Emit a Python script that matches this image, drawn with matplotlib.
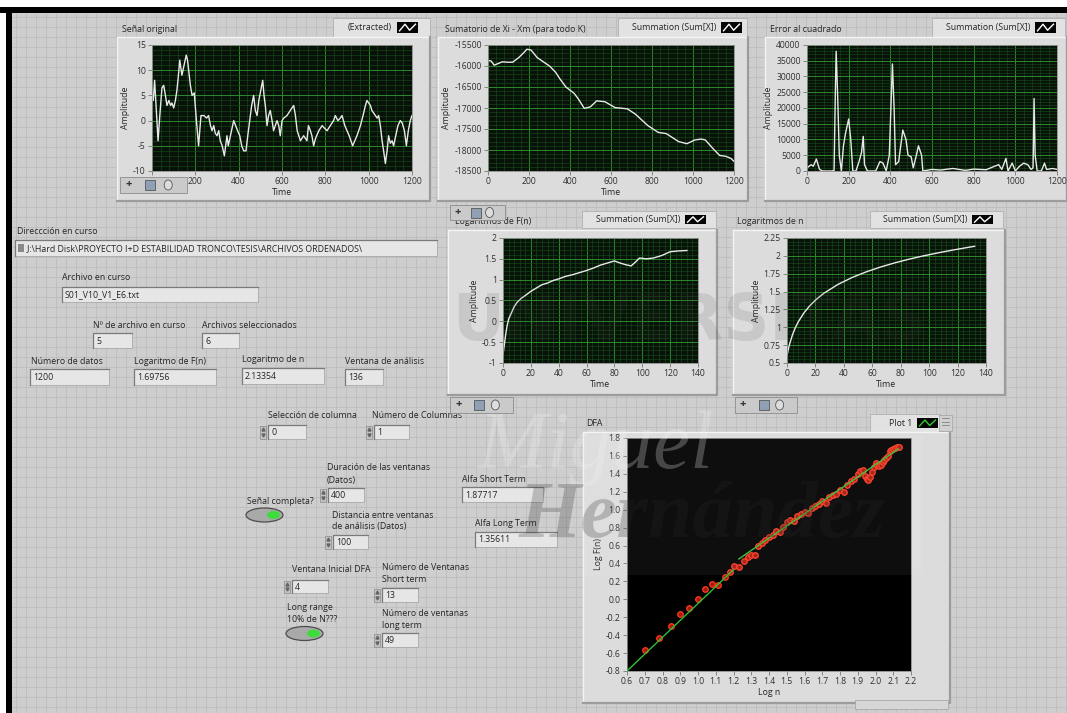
import matplotlib
matplotlib.use('Agg')
import matplotlib.pyplot as plt
from matplotlib.patches import Rectangle, Ellipse
from matplotlib.collections import LineCollection
from matplotlib.ticker import MultipleLocator, AutoMinorLocator, FuncFormatter

plt.rcParams['font.family'] = ['Open Sans', 'DejaVu Sans']
plt.rcParams['axes.unicode_minus'] = False

# ---------------- data ----------------
sig_t = [0, 6, 12, 20, 28, 36, 46, 54, 62, 69, 78, 86, 92, 100, 108, 115, 122, 128, 138, 148,
         158, 164, 169, 177, 185, 195, 205, 215, 226, 240, 252, 261, 270, 277, 285, 292, 300, 308,
         315, 324, 334, 340, 346, 352, 362, 377, 386, 395, 405, 414, 423, 434, 442, 451, 460, 469,
         477, 485, 493, 502, 511, 517, 523, 531, 538, 546, 554, 561, 569, 577, 585, 592, 600, 608,
         623, 638, 654, 662, 670, 685, 700, 715, 722, 731, 738, 746, 755, 770, 785, 796, 808, 823,
         838, 846, 858, 869, 877, 890, 900, 910, 926, 936, 946, 954, 962, 974, 985, 992, 1000, 1008,
         1015, 1023, 1031, 1039, 1046, 1054, 1062, 1069, 1077, 1085, 1092, 1100, 1108, 1115, 1125,
         1135, 1146, 1155, 1165, 1174, 1183, 1192, 1200]
sig_v = [5, 4, 8, 2, -4, 1, 6.5, 7, 5, 3, 4, 3, 3.5, 2.5, 4, 6, 9, 12, 9, 11,
         13, 12, 10, 7, 5, 5.5, 0, -5, 1, 1, 0.5, 1, -1, -2, -1, -2.5, -3, -2,
         -4, -5, -7, -5, -3, -5, -3, 0, -1, -2, -3, -5, -6, -6, -3, 0, 3, 5,
         2, 1, 4, 6, 8, 5, 3, -1, 1, 2, 0, -2, -1, 0, -1, -3, 0, 0.5,
         1, 2, 3, 1, -2, -4, -3, -4, -1, -2, -3, -5, -3.5, -2, -1, -1.5, -2, -1,
         0, 1, 0, 0.5, 1, -1, -2, -3, -5, -4, -3, -2, -1, 1, 3, 4, 3.5, 3,
         2, 1.5, 1, 0.5, 1, -1, -4, -6, -8.5, -6, -3, -4.5, -4, -5, -3,
         -1, 0, -0.5, -2, -5, -2, 0, 1]

sum_t = [0, 15, 30, 50, 70, 95, 120, 150, 175, 190, 210, 240, 270, 300, 330, 350, 380, 420, 440,
         470, 500, 530, 570, 620, 680, 720, 780, 830, 870, 930, 970, 1010, 1040, 1060, 1100, 1130,
         1160, 1185, 1200]
sum_v = [-15870, -15880, -15980, -15940, -15900, -15910, -15910, -15800, -15680, -15600, -15620,
         -15800, -15900, -16000, -16150, -16300, -16500, -16650, -16780, -17010, -16970, -16830,
         -16850, -16990, -17020, -17150, -17420, -17580, -17610, -17800, -17850, -17760, -17740,
         -17760, -17980, -18130, -18150, -18200, -18270]

err_t = [0, 10, 20, 30, 45, 60, 75, 120, 130, 136, 140, 148, 155, 165, 175, 185, 200, 210, 220, 235,
         250, 262, 270, 276, 290, 330, 350, 365, 380, 395, 410, 418, 425, 440, 460, 475, 485, 500,
         510, 525, 535, 550, 556, 600, 640, 700, 760, 800, 860, 900, 920, 935, 955, 965, 985, 1000,
         1020, 1040, 1060, 1075, 1085, 1090, 1095, 1105, 1125, 1140, 1150, 1180, 1200]
err_v = [1000, 1500, 2000, 1500, 3800, 500, 0, 0, 200, 25000, 38000, 22000, 5000, 0, 8000, 12000,
         16500, 10000, 0, 0, 3000, 6000, 11000, 2000, 0, 0, 3000, 2500, 0, 5000, 34000, 20000, 2000,
         3000, 13000, 10000, 5000, 4500, 1000, 5000, 8000, 5000, 0, 500, 300, 800, 200, 600, 400,
         1500, 2000, 500, 4000, 0, 2500, 0, 1500, 2500, 2000, 500, 1000, 23000, 5000, 0, 0, 2500,
         500, 800, 500]

logf_x = [0, 1, 2, 3, 4, 6, 8, 10, 13, 16, 20, 24, 28, 32, 36, 40, 45, 50, 55, 60, 65, 70, 75, 80,
          84, 88, 92, 95, 98, 103, 108, 114, 120, 126, 132]
logf_v = [-0.8, -0.55, -0.3, -0.1, 0.05, 0.2, 0.35, 0.45, 0.55, 0.62, 0.72, 0.8, 0.88, 0.92, 0.98,
          1.02, 1.08, 1.12, 1.17, 1.22, 1.28, 1.35, 1.4, 1.45, 1.4, 1.36, 1.33, 1.42, 1.52, 1.5,
          1.52, 1.58, 1.67, 1.69, 1.7]

logn_x = [0, 1, 2, 4, 6, 8, 12, 16, 21, 26, 36, 46, 56, 66, 76, 86, 96, 106, 116, 126, 132]
logn_v = [0.602, 0.699, 0.778, 0.903, 1.0, 1.079, 1.204, 1.301, 1.398, 1.477, 1.602, 1.699, 1.778,
          1.845, 1.903, 1.954, 2.0, 2.041, 2.079, 2.114, 2.134]

dfa_x = [0.70, 0.78, 0.85, 0.90, 0.95, 1.00, 1.04, 1.08, 1.11, 1.15, 1.18, 1.20, 1.23, 1.26, 1.28,
         1.30, 1.32, 1.34, 1.36, 1.38, 1.40, 1.42, 1.44, 1.46, 1.48, 1.50, 1.52, 1.54, 1.56, 1.58,
         1.60, 1.62, 1.64, 1.66, 1.68, 1.70, 1.72, 1.74, 1.76, 1.78, 1.80, 1.82, 1.84, 1.86, 1.88,
         1.90, 1.91, 1.93, 1.94, 1.95, 1.96, 1.97, 1.98, 1.99, 2.00, 2.01, 2.02, 2.03, 2.04, 2.05,
         2.06, 2.07, 2.08, 2.09, 2.10, 2.11, 2.12, 2.13]
dfa_y = [-0.57, -0.43, -0.30, -0.16, -0.10, 0.00, 0.11, 0.17, 0.16, 0.25, 0.31, 0.37, 0.36, 0.43,
         0.47, 0.50, 0.49, 0.60, 0.63, 0.66, 0.70, 0.72, 0.76, 0.75, 0.81, 0.86, 0.88, 0.87, 0.93,
         0.95, 0.97, 0.96, 1.02, 1.04, 1.06, 1.10, 1.08, 1.14, 1.16, 1.18, 1.22, 1.20, 1.28, 1.32,
         1.34, 1.40, 1.43, 1.44, 1.38, 1.34, 1.33, 1.36, 1.42, 1.48, 1.52, 1.50, 1.49, 1.50, 1.53,
         1.56, 1.58, 1.60, 1.66, 1.67, 1.68, 1.69, 1.70, 1.70]
fit_short_x = [0.60, 1.20]
fit_short_y = [-0.80, 0.33]
fit_long_x = [1.23, 2.13]
fit_long_y = [0.45, 1.68]

# ---------------- canvas ----------------
W, H = 1067, 713
fig = plt.figure(figsize=(W / 100, H / 100), dpi=100)
fig.patch.set_facecolor('white')

bg = fig.add_axes([0, 0, 1, 1])
bg.set_xlim(0, W); bg.set_ylim(H, 0); bg.axis('off'); bg.set_zorder(0)
ov = fig.add_axes([0, 0, 1, 1])
ov.set_xlim(0, W); ov.set_ylim(H, 0); ov.axis('off'); ov.set_zorder(20)
ov.patch.set_alpha(0)

TXT = '#252525'


def rect(ax, x0, y0, x1, y1, fc, ec='none', lw=0.8, z=1, alpha=1.0):
    ax.add_patch(Rectangle((x0, y0), x1 - x0, y1 - y0, facecolor=fc, edgecolor=ec,
                           linewidth=lw, zorder=z, alpha=alpha))


def txt(ax, x, y, s, size=6.3, **kw):
    kw.setdefault('color', TXT)
    kw.setdefault('va', 'center')
    kw.setdefault('ha', 'left')
    ax.text(x, y, s, fontsize=size, zorder=5, **kw)


def panel(x0, y0, x1, y1):
    rect(bg, x0, y0, x1, y1, '#dcdcdc', z=2)
    bg.plot([x0, x0, x1], [y1, y0, y0], color='#f4f4f4', lw=1.0, zorder=3)
    bg.plot([x0, x1, x1], [y1, y1, y0], color='#9c9c9c', lw=1.6, zorder=3)


def legend_box(x0, y0, x1, y1, s, ix0, ix1, line='white', extra=False):
    rect(bg, x0, y0, x1, y1, '#e2e2e2', ec='#b0b0b0', lw=0.6, z=2)
    txt(bg, ix0 - 5, (y0 + y1) / 2, s, ha='right')
    rect(bg, ix0, y0 + 4, ix1, y1 - 4, '#050505', z=3)
    w = ix1 - ix0; hh = (y1 - 4) - (y0 + 4)
    xs = [ix0 + 0.12 * w, ix0 + 0.38 * w, ix0 + 0.6 * w, ix0 + 0.88 * w]
    ys = [y1 - 4 - 0.2 * hh, y0 + 4 + 0.2 * hh, y1 - 4 - 0.25 * hh, y0 + 4 + 0.2 * hh]
    bg.plot(xs, ys, color=line, lw=1.0, zorder=4)
    if extra:
        rect(bg, ix1 + 1, y0 + 1, ix1 + 14, y1 - 1, '#d0d0d0', ec='#a0a0a0', lw=0.5, z=3)
        for k in range(3):
            bg.plot([ix1 + 4, ix1 + 11], [y0 + 4 + 3.5 * k] * 2, color='#808080', lw=0.6, zorder=4)


def field(x0, y0, x1, y1, s, spin=False):
    rect(bg, x0, y0, x1, y1, '#e6e6e6', ec='#a8a8a8', lw=0.6, z=2)
    bg.plot([x0, x0, x1], [y1, y0, y0], color='#7a7a7a', lw=0.9, zorder=3)
    txt(bg, x0 + 3, (y0 + y1) / 2 + 0.5, s)
    if spin:
        rect(bg, x0 - 8, y0 + 0.5, x0 - 2, y1 - 0.5, '#c4c4c4', ec='#8a8a8a', lw=0.5, z=2)
        bg.plot([x0 - 5], [y0 + 4], marker='^', ms=2.2, color='#666', zorder=4)
        bg.plot([x0 - 5], [y1 - 4], marker='v', ms=2.2, color='#666', zorder=4)


def toolbar(x0, y0, x1, y1):
    rect(ov, x0, y0, x1, y1, '#cacaca', ec='#8c8c8c', lw=0.6, z=2)
    ym = (y0 + y1) / 2
    w = x1 - x0
    txt(ov, x0 + 0.08 * w, ym, '+', size=8, color='#333', fontweight='bold')
    rect(ov, x0 + 0.38 * w, ym - 5, x0 + 0.38 * w + 10, ym + 5, '#8fa0b4', ec='#444', lw=0.5, z=3)
    ov.add_patch(Ellipse((x0 + 0.72 * w, ym), 8, 10, facecolor='#dddddd', edgecolor='#555',
                         lw=0.6, zorder=3))


def led(cx, cy):
    bg.add_patch(Ellipse((cx, cy), 37, 14, facecolor='#a9a9a9', edgecolor='#4c4c4c', lw=0.9, zorder=3))
    bg.add_patch(Ellipse((cx + 9, cy), 13, 8, facecolor='#3ddc3d', edgecolor='none', zorder=4))


# background, borders and grid
rect(bg, 12, 13, W, H, '#cecece', z=0)
rect(bg, 0, 7, W, 13, '#000000', z=1)
rect(bg, 6, 7, 12, H, '#000000', z=1)
vl = [[(x, 13), (x, H)] for x in range(16, W, 10)]
hl = [[(12, y), (W, y)] for y in range(17, H, 10)]
bg.add_collection(LineCollection(vl + hl, colors='#bdbdbd', linewidths=0.6, zorder=0.5))

# panels
panel(117, 37, 430, 201)
panel(438, 37, 748, 201)
panel(765, 37, 1067, 201)
panel(448, 230, 717, 395)
panel(733, 230, 1005, 395)
panel(583, 432, 950, 703)
rect(bg, 855, 700, 948, 709, '#d6d6d6', ec='#a0a0a0', lw=0.5, z=3)

# titles + legends
txt(bg, 122, 29, 'Señal original')
legend_box(333, 18, 430, 37, '(Extracted)', 397, 418)
txt(bg, 445, 29, 'Sumatorio de Xi - Xm (para todo K)')
legend_box(618, 18, 747, 37, 'Summation (Sum[X])', 721, 742)
txt(bg, 770, 29, 'Error al cuadrado')
legend_box(932, 18, 1065, 37, 'Summation (Sum[X])', 1035, 1056)
txt(bg, 455, 222, 'Logaritmos de F(n)')
legend_box(582, 211, 716, 228, 'Summation (Sum[X])', 685, 706)
txt(bg, 737, 222, 'Logaritmos de n')
legend_box(870, 211, 1003, 228, 'Summation (Sum[X])', 972, 993)
txt(bg, 586, 423, 'DFA')
legend_box(870, 414, 940, 432, 'Plot 1', 917, 938, line='#2ecc2e', extra=True)

# control fields
txt(bg, 17, 231, 'Direccción en curso')
field(15, 240, 437, 256, '    ' + r'J:\Hard Disk\PROYECTO I+D ESTABILIDAD TRONCO\TESIS\ARCHIVOS ORDENADOS' + '\\')
rect(bg, 18, 244, 24, 252, '#8a8a8a', z=4)
txt(bg, 62, 278, 'Archivo en curso')
field(62, 287, 258, 302, 'S01_V10_V1_E6.txt')
txt(bg, 93, 325, 'Nº de archivo en curso')
field(93, 333, 132, 348, '5')
txt(bg, 202, 325, 'Archivos seleccionados')
field(202, 333, 239, 348, '6')
txt(bg, 31, 361, 'Número de datos')
field(30, 369, 109, 385, '1200')
txt(bg, 134, 361, 'Logaritmo de F(n)')
field(134, 369, 216, 385, '1.69756')
txt(bg, 242, 359, 'Logaritmo de n')
field(242, 368, 324, 384, '2.13354')
txt(bg, 345, 361, 'Ventana de análisis')
field(345, 369, 383, 385, '136')

txt(bg, 268, 416, 'Selección de columna')
field(268, 425, 306, 439, '0', spin=True)
txt(bg, 372, 416, 'Número de Columnas')
field(374, 425, 409, 439, '1', spin=True)
txt(bg, 327, 468, 'Duración de las ventanas')
txt(bg, 327, 480, '(Datos)')
field(328, 488, 364, 502, '400', spin=True)
txt(bg, 462, 479, 'Alfa Short Term')
field(462, 487, 543, 502, '1.87717')
txt(bg, 247, 501, 'Señal completa?')
led(264.5, 515)
txt(bg, 332, 515, 'Distancia entre ventanas')
txt(bg, 332, 527, 'de análisis (Datos)')
field(333, 535, 368, 549, '100', spin=True)
txt(bg, 475, 523, 'Alfa Long Term')
field(475, 532, 557, 547, '1.35611')
txt(bg, 292, 570, 'Ventana Inicial DFA')
field(292, 580, 328, 593, '4', spin=True)
txt(bg, 382, 568, 'Número de Ventanas')
txt(bg, 382, 579, 'Short term')
field(382, 588, 418, 602, '13', spin=True)
txt(bg, 287, 607, 'Long range')
txt(bg, 287, 619, '10% de N???')
led(304.5, 633.5)
txt(bg, 382, 613, 'Número de ventanas')
txt(bg, 382, 625, 'long term')
field(382, 633, 418, 647, '49', spin=True)


# ---------------- data axes ----------------
def mkax(x0, y0, x1, y1):
    ax = fig.add_axes([x0 / W, 1 - y1 / H, (x1 - x0) / W, (y1 - y0) / H])
    ax.set_zorder(10)
    return ax


def style(ax, xlim, ylim, xmaj, ymaj, fmt=None, dark=True, xlabel='Time', ylabel='Amplitude'):
    ax.set_xlim(*xlim); ax.set_ylim(*ylim)
    ax.xaxis.set_major_locator(MultipleLocator(xmaj))
    ax.yaxis.set_major_locator(MultipleLocator(ymaj))
    if dark:
        ax.set_facecolor('#081208')
        ax.xaxis.set_minor_locator(AutoMinorLocator(5))
        ax.yaxis.set_minor_locator(AutoMinorLocator(5))
        ax.grid(which='major', color='#2b8a2b', lw=0.7)
        ax.grid(which='minor', color='#14481a', lw=0.45)
    else:
        ax.set_facecolor('black')
    ax.set_axisbelow(True)
    ax.tick_params(which='major', direction='out', length=3, width=0.6, color='#777',
                   labelsize=6.2, labelcolor='#303030', pad=1.5)
    ax.tick_params(which='minor', length=0)
    for sp in ax.spines.values():
        sp.set_color('#8a8a8a'); sp.set_linewidth(0.6)
    if fmt:
        ax.xaxis.set_major_formatter(FuncFormatter(lambda v, p: fmt[0] % v))
        ax.yaxis.set_major_formatter(FuncFormatter(lambda v, p: fmt[1] % v))
    ax.set_xlabel(xlabel, fontsize=6.3, color=TXT, labelpad=1.5)
    ax.set_ylabel(ylabel, fontsize=6.3, color=TXT, labelpad=2)


LINE = '#e9e9e9'

ax1 = mkax(152, 45, 412, 171)
style(ax1, (0, 1200), (-10, 15), 200, 5, fmt=('%g', '%g'))
ax1.plot(sig_t, sig_v, color=LINE, lw=1.0)

ax2 = mkax(488, 45, 734, 171)
style(ax2, (0, 1200), (-18500, -15500), 200, 500, fmt=('%g', '%g'))
ax2.plot(sum_t, sum_v, color=LINE, lw=1.0)

ax3 = mkax(807, 45, 1057, 171)
style(ax3, (0, 1200), (0, 40000), 200, 5000, fmt=('%g', '%g'), xlabel='')
ax3.plot(err_t, err_v, color=LINE, lw=1.0)

ax4 = mkax(503, 238, 698, 363)
style(ax4, (0, 140), (-1, 2), 20, 0.5, fmt=('%g', '%g'))
ax4.plot(logf_x, logf_v, color=LINE, lw=1.0)

ax5 = mkax(787, 238, 986, 363)
style(ax5, (0, 140), (0.5, 2.25), 20, 0.25, fmt=('%g', '%g'))
ax5.plot(logn_x, logn_v, color=LINE, lw=1.0)

ax6 = mkax(627, 438, 911, 671)
style(ax6, (0.6, 2.2), (-0.8, 1.8), 0.1, 0.2, fmt=('%.1f', '%.1f'), dark=False,
      xlabel='Log n', ylabel='Log F(n)')
ax6.plot(dfa_x, dfa_y, linestyle='none', marker='o', ms=4.0, mfc='#a8180e', mec='#ff3b22',
         mew=0.9, zorder=2)
ax6.plot(fit_short_x, fit_short_y, color='#2fbf2f', lw=1.0, zorder=3)
ax6.plot(fit_long_x, fit_long_y, color='#2fbf2f', lw=1.0, zorder=3)

# ---------------- overlay: toolbars + watermark ----------------
toolbar(120, 177, 187, 193)
toolbar(450, 205, 505, 220)
toolbar(450, 397, 513, 413)
toolbar(735, 397, 797, 413)

rect(ov, 583, 436, 923, 575, '#ffffff', z=1, alpha=0.06)
ov.text(690, 322, 'UNIVERSITAS', fontsize=46, fontweight='bold', color='#3a3a3a', alpha=0.12,
        ha='center', va='center', family='DejaVu Sans', zorder=6)
ov.text(478, 448, 'Miguel', fontsize=60, style='italic', color='#f4f4f4', alpha=0.25,
        ha='left', va='center', family='Liberation Serif', zorder=6)
ov.text(885, 518, 'Hernández', fontsize=58, style='italic', fontweight='bold', color='#2a2a2a',
        alpha=0.24, ha='right', va='center', family='Liberation Serif', zorder=6)

fig.savefig('out.png', dpi=100)
